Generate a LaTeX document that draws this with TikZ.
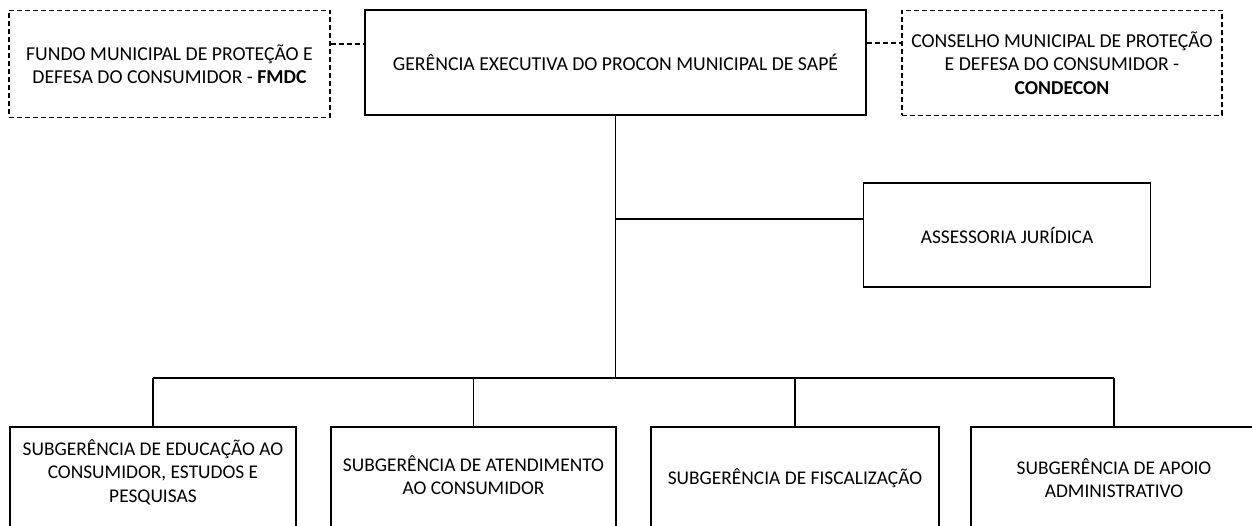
\documentclass[tikz,border=0pt]{standalone}
\usepackage{fontspec}
\setmainfont{Carlito}
\begin{document}
\begin{tikzpicture}[x=1pt,y=-1pt,
  box/.style={draw, line width=1.4pt, inner sep=0pt, align=center, font=\fontsize{19.7}{23.5}\selectfont},
  dbox/.style={box, dash pattern=on 5pt off 3pt},
  txt/.style={align=center, inner sep=0pt, font=\fontsize{19.4}{23.5}\selectfont},
  lnk/.style={line width=1.4pt},
  dlnk/.style={line width=1.4pt, dash pattern=on 5pt off 3pt}]
\clip (0,0) rectangle (1252,526);
\fill[white] (0,0) rectangle (1252,526);
% top row
\node[dbox, minimum width=321pt, minimum height=107pt] (fmdc) at (169.5,64)
  {FUNDO MUNICIPAL DE PROTEÇÃO E\\DEFESA DO CONSUMIDOR - \textbf{FMDC}};
\node[box, minimum width=501pt, minimum height=105pt] (main) at (615.5,62.5)
  {GERÊNCIA EXECUTIVA DO PROCON MUNICIPAL DE SAPÉ};
\node[dbox, minimum width=320pt, minimum height=105pt] (cond) at (1062,63)
  {CONSELHO MUNICIPAL DE PROTEÇÃO\\E DEFESA DO CONSUMIDOR -\\\textbf{CONDECON}};
\coordinate (ly) at (0,44);
\coordinate (ry) at (0,43);
\draw[dlnk] (fmdc.east |- ly) -- (main.west |- ly);
\draw[dlnk] (main.east |- ry) -- (cond.west |- ry);
% assessoria
\node[box, minimum width=287pt, minimum height=104pt, font=\fontsize{19.4}{23.5}\selectfont] (asj) at (1007,235) {ASSESSORIA JURÍDICA};
\coordinate (aj) at ([yshift=16pt]asj.west);
% bottom row
\node[box, minimum width=286pt, minimum height=110pt] (b1) at (153,482) {};
\node[box, minimum width=285pt, minimum height=110pt] (b2) at (473.5,482) {};
\node[box, minimum width=288pt, minimum height=110pt] (b3) at (795,482) {};
\node[box, minimum width=286pt, minimum height=110pt] (b4) at (1114,482) {};
\node[txt] (t1) at ([yshift=-46pt]b1.north) {SUBGERÊNCIA DE EDUCAÇÃO AO\\CONSUMIDOR, ESTUDOS E\\PESQUISAS};
\node[txt] (t2) at ([yshift=-49pt]b2.north) {SUBGERÊNCIA DE ATENDIMENTO\\AO CONSUMIDOR};
\node[txt] (t3) at ([yshift=-52pt]b3.north) {SUBGERÊNCIA DE FISCALIZAÇÃO};
\node[txt] (t4) at ([yshift=-52pt]b4.north) {SUBGERÊNCIA DE APOIO\\ADMINISTRATIVO};
% connectors
\coordinate (bus) at (614,378);
\draw[lnk] (main.south) -- (main.south |- bus);
\draw[lnk] (aj -| main.south) -- (aj);
\draw[lnk] (b1.north |- bus) -- (b4.north |- bus);
\draw[lnk] (b1.north |- bus) -- (b1.north);
\draw[lnk] (b2.north |- bus) -- (b2.north);
\draw[lnk] (b3.north |- bus) -- (b3.north);
\draw[lnk] (b4.north |- bus) -- (b4.north);
\end{tikzpicture}
\end{document}
